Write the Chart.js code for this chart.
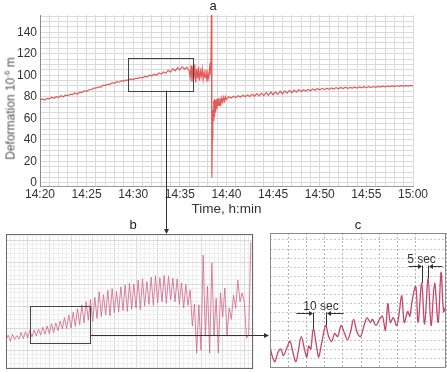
<!DOCTYPE html>
<html><head><meta charset="utf-8">
<script src="https://cdn.jsdelivr.net/npm/chart.js@4.4.1/dist/chart.umd.min.js"></script>
<style>
html,body{margin:0;padding:0;background:#fff;}
#wrap{position:relative;width:447px;height:372px;overflow:hidden;font-family:"Liberation Sans",Arial,sans-serif;color:#222;}
canvas{position:absolute;left:0;top:0;}
.lbl{position:absolute;font-size:13px;line-height:13px;transform:translateX(-50%);white-space:nowrap;color:#222;font-weight:normal;}
#ylab{position:absolute;left:-88.7px;top:101px;width:200px;text-align:center;font-size:12px;line-height:15px;font-weight:normal;transform:rotate(-90deg);white-space:nowrap;color:#555;}
#ylab sup{font-size:8px;line-height:0;vertical-align:5px;}
</style></head>
<body>
<div id="wrap">
<canvas id="ca" width="447" height="372"></canvas>
<canvas id="cb" width="447" height="372"></canvas>
<canvas id="cc" width="447" height="372"></canvas>
<div class="lbl" style="left:213px;top:-1.5px">a</div>
<div class="lbl" style="left:133px;top:218px">b</div>
<div class="lbl" style="left:358px;top:218px">c</div>
<div id="ylab">Deformation 10<sup>-6</sup> m</div>
</div>
<script>
// ---------- panel a : minutes after 14:20 / deformation (10^-6 m) ----------
const aTime = [
 0,0.25,0.5,0.75,1,1.25,1.5,1.75,2,2.25,2.5,2.75,3,3.25,3.5,3.75,4,4.25,4.5,4.75,5,5.25,5.5,5.75,
 6,6.25,6.5,6.75,7,7.25,7.5,7.75,8,8.25,8.5,8.75,9,9.25,9.5,9.75,10,10.25,10.5,10.75,11,11.25,11.5,11.75,
 12,12.25,12.5,12.75,13,13.25,13.5,13.75,14,14.25,14.5,14.75,15,15.25,15.5,15.75,
 16,16.1,16.2,16.3,16.4,16.5,16.6,16.7,16.8,16.9,17,17.1,17.2,17.3,17.4,17.5,17.6,17.7,17.8,17.9,18,18.1,18.2,18.27,18.32,18.38,18.43,
 18.48,18.53,18.58,18.63,18.68,18.73,18.78,18.83,18.9,18.97,19.05,19.12,19.2,19.3,19.4,19.5,19.6,19.7,19.8,19.9,20,
 20.25,20.5,20.75,21,21.25,21.5,21.75,22,22.25,22.5,22.75,23,23.25,23.5,23.75,24,24.25,24.5,24.75,25,
 25.25,25.5,25.75,26,26.25,26.5,26.75,27,27.25,27.5,27.75,28,28.25,28.5,28.75,29,29.25,29.5,29.75,30,
 30.25,30.5,30.75,31,31.25,31.5,31.75,32,32.25,32.5,32.75,33,33.25,33.5,33.75,34,34.25,34.5,34.75,35,
 35.25,35.5,35.75,36,36.25,36.5,36.75,37,37.25,37.5,37.75,38,38.25,38.5,38.75,39,39.25,39.5,39.75,40
];
const aDef = [
 76.5,78,77,78.5,78,79.5,78.5,80,79.5,81,80,81.5,81,82.5,82,83.5,82.5,84,84,85.5,85,86.5,86.5,88,
 88,89,89,90.5,90.5,91.5,91.5,93,92.5,94,93.5,95,94.5,95.5,95.5,96.5,96,97,97,98,97.5,99,98.5,100,
 99.5,101,100,102,101,103,102,104.5,103,106,104,107,105,108,105.5,107.5,
 104,98,109,94,107,96,110,93,106,97,108,95,104,99,106,96,103,98,105,94,102,97,108,112,100,156,5,
 40,68,58,76,62,78,66,77,69,78,71,78.5,72,79,73.5,79,75,79.5,76,80,77.5,
 80.0,78.8,80.4,79.3,80.9,79.6,81.3,80.1,81.7,80.3,82.2,80.6,83.0,80.8,83.4,81.1,83.8,81.4,84.4,81.9,
 84.6,82.3,85.1,82.8,85.5,83.4,85.9,83.7,86.2,84.3,86.6,84.7,86.5,85.3,86.8,85.5,87.2,86.0,87.6,86.3,
 87.8,86.6,88.0,86.8,88.2,87.1,88.5,87.3,88.6,87.6,88.8,87.7,88.7,88.0,88.9,88.1,89.1,88.3,89.3,88.4,
 89.3,88.6,89.5,88.8,89.6,89.0,89.8,89.1,89.9,89.3,90.0,89.4,90.2,89.6,90.3,89.8,90.4,89.9,90.6,90.1
];
const aTickMinutes = [0,5,10,15,20,25,30,35,40];
const aTickLabels = ['14:20','14:25','14:30','14:35','14:40','14:45','14:50','14:55','15:00'];
const aYTicks = [0,20,40,60,80,100,120,140];
const aZoom = {t0:9.47, t1:16.37, v0:85.7, v1:116.4};   // region enlarged in b
const aArrowT = 13.48;

// ---------- panel b : seconds / deformation ----------
const bTime = [
 0,5,10,15,20,25,30,35,40,45,50,55,60,65,70,75,80,85,90,95,100,105,110,115,120,125,130,135,140,145,150,155,160,165,170,175,180,185,190,
 195,200,205,210,215,220,225,230,235,240,245,250,255,260,265,270,275,280,285,290,295,300,305,310,315,320,325,330,335,340,345,350,355,360,365,370,375,380,385,390,395,400,405,410,415,420,425,
 430,435,440,445,450,455,460,465,470,475,480,485,490,495,500,505,510,515,520,525,530,535,540,545,550,555,560,565
];
const bDef = [
 92.3,93.4,92.0,93.6,92.4,93.3,92.5,94.0,92.6,94.2,92.8,94.5,93.0,94.6,93.2,94.8,93.4,95.2,93.6,95.5,93.7,96.0,94.0,96.2,94.4,96.6,94.8,97.4,94.9,98.0,95.0,98.6,95.4,99.4,95.8,100.3,96.2,101.0,96.8,
 101.5,96.5,102.0,97.2,103.3,97.6,102.6,98.0,103.6,97.8,104.0,98.5,103.4,98.7,104.4,99.0,104.8,98.8,105.2,99.3,105.0,99.6,105.9,99.2,106.2,100.0,105.6,100.4,106.6,100.2,106.9,100.7,106.5,101.0,107.0,100.6,106.8,101.4,106.4,101.0,106.2,100.4,105.3,99.6,104.9,100.2,103.7,
 95.5,100.5,89.3,100.3,90.0,111.6,93.4,104.5,89.3,109.8,93.4,101.8,89.3,103.0,97.5,104.1,93.4,99.6,97.0,102.5,99.5,105.9,101.0,103.0,100.9,92.7,93.5,114.6
];
const bZoom = {t0:56, t1:194, v0:91.5, v1:100.1};   // region enlarged in c
const bArrowV = 93.5;

// ---------- panel c : seconds in window / deformation ----------
const cTime = [
 0,1.6,3.9,6.3,8.6,10.6,13.4,15.7,18.1,20.4,22.4,24.7,27.5,29.1,30.6,32.2,34.2,36.9,38.5,40.8,44.0,46.3,48.7,51.1,53.4,56.2,58.9,61.3,63.6,66.0,
 68.7,71.5,74.6,76.6,79.3,80.9,83.7,86.4,88.8,91.1,93.1,95.0,97.4,99.8,101.3,104.1,106.0,108.8,110.4,112.3,115.1,117.0,119.8,122.1,124.9,127.2,130.0,132.8,135.1,137.1,139.0
];
const cDef = [
 93.0,92.4,92.0,92.6,92.8,92.4,92.9,93.3,92.6,92.0,92.7,93.6,92.7,92.3,93.0,92.8,94.1,92.9,92.3,93.2,94.3,93.6,93.3,93.8,93.6,94.3,93.8,93.4,93.9,94.7,
 93.9,93.6,94.4,94.8,94.5,94.7,94.3,94.7,94.9,94.0,95.7,94.5,94.8,94.3,94.7,96.2,94.5,95.2,94.9,95.9,96.8,94.5,97.0,94.4,97.3,94.3,97.0,94.5,97.7,95.2,95.6
];
const cMark10 = [34.2, 44.0], cLevel10 = 95.1, cText10 = '10 sec';
const cMark5 = [119.8, 124.9], cLevel5 = 98.07, cText5 = '5 sec';

// ---------------------------------------------------------------
Chart.defaults.font.family = '"Liberation Sans", Arial, sans-serif';
const pts = (xs, ys) => xs.map((x, i) => ({x, y: ys[i]}));
function head(ctx, x, y, dir, len, half){
  ctx.beginPath();
  if (dir === 'down'){ ctx.moveTo(x, y); ctx.lineTo(x-half, y-len); ctx.lineTo(x+half, y-len); }
  else if (dir === 'right'){ ctx.moveTo(x, y); ctx.lineTo(x-len, y-half); ctx.lineTo(x-len, y+half); }
  else { ctx.moveTo(x, y); ctx.lineTo(x+len, y-half); ctx.lineTo(x+len, y+half); }
  ctx.closePath(); ctx.fill();
}
const frame = (id, color) => ({id, afterDraw(ch){
  const a = ch.chartArea, c = ch.ctx; c.save(); c.strokeStyle = color; c.lineWidth = 1;
  c.strokeRect(Math.round(a.left)+0.5, Math.round(a.top)+0.5, Math.round(a.width)-1, Math.round(a.height)-1); c.restore();
}});
function zoomRect(ch, z){
  const x = ch.scales.x, y = ch.scales.y, c = ch.ctx;
  const l = Math.round(x.getPixelForValue(z.t0))+0.5, r = Math.round(x.getPixelForValue(z.t1))+0.5;
  const t = Math.round(y.getPixelForValue(z.v1))+0.5, b = Math.round(y.getPixelForValue(z.v0))+0.5;
  c.save(); c.strokeStyle = '#444'; c.lineWidth = 1; c.strokeRect(l, t, r-l, b-t); c.restore();
}
const common = {responsive:false, animation:false, events:[], devicePixelRatio:1,
  plugins:{legend:{display:false}, tooltip:{enabled:false}}};

const chartA = new Chart(document.getElementById('ca'), {
  type:'line',
  data:{datasets:[{data:pts(aTime, aDef), borderColor:'rgba(224,64,64,0.85)', borderWidth:1.2, pointRadius:0, tension:0, fill:false}]},
  options:Object.assign({}, common, {
    layout:{padding:{left:0, top:15, right:34, bottom:151}},
    scales:{
      x:{type:'linear', min:0, max:40,
        grid:{color:'#dadada', drawTicks:false}, border:{color:'#9a9a9a'},
        ticks:{stepSize:1, autoSkip:false, maxRotation:0, minRotation:0, padding:1, color:'#333', font:{size:12},
          callback:v => { const i = aTickMinutes.indexOf(v); return i < 0 ? '' : aTickLabels[i]; }},
        title:{display:true, text:'Time, h:min', color:'#333', font:{size:13.5}, padding:{top:0, bottom:4}},
        afterFit:s => { s.height = 35; }},
      y:{type:'linear', min:-3, max:156,
        grid:{color:'#dadada', drawTicks:false}, border:{color:'#8a8a8a'},
        ticks:{stepSize:5, autoSkip:false, includeBounds:false, padding:3, color:'#333', font:{size:12},
          callback:v => aYTicks.includes(v) ? String(v) : ''},
        afterFit:s => { s.width = 40; }}
    }
  }),
  plugins:[{id:'zoomA', afterDraw(ch){ zoomRect(ch, aZoom); }}]
});

const chartB = new Chart(document.getElementById('cb'), {
  type:'line',
  data:{datasets:[{data:pts(bTime, bDef), borderColor:'rgba(208,100,135,0.8)', borderWidth:1, pointRadius:0, tension:0, fill:false}]},
  options:Object.assign({}, common, {
    layout:{padding:{left:6, top:234, right:194, bottom:3}},
    scales:{
      x:{type:'linear', min:0, max:570, ticks:{display:false, stepSize:10},
        grid:{drawTicks:false, color:c => (c.tick && Math.round(c.tick.value) % 50 === 0) ? '#d9d9d9' : '#eeeeee'},
        border:{display:false}, afterFit:s => { s.height = 0; }},
      y:{type:'linear', min:85.7, max:116.4, ticks:{display:false, stepSize:1, includeBounds:false},
        grid:{drawTicks:false, color:c => (c.tick && Math.round(c.tick.value) % 5 === 0) ? '#d9d9d9' : '#eeeeee'},
        border:{display:false}, afterFit:s => { s.width = 0; }}
    }
  }),
  plugins:[frame('frameB', '#6a6a6a'), {id:'zoomB', afterDraw(ch){ zoomRect(ch, bZoom); }}]
});

function marks(ch, m, level, text, armLen, textShift){
  const xs = ch.scales.x, ys = ch.scales.y, c = ch.ctx;
  const yL = Math.round(ys.getPixelForValue(level))+0.5;
  const xL = Math.round(xs.getPixelForValue(m[0]))+0.5, xR = Math.round(xs.getPixelForValue(m[1]))+0.5;
  const pL = ys.getPixelForValue(cDef[cTime.indexOf(m[0])]), pR = ys.getPixelForValue(cDef[cTime.indexOf(m[1])]);
  c.save(); c.strokeStyle = '#333'; c.fillStyle = '#333'; c.lineWidth = 1;
  c.beginPath();
  c.moveTo(xL, yL-1); c.lineTo(xL, pL);
  c.moveTo(xR, yL-1); c.lineTo(xR, pR);
  c.moveTo(xL-armLen, yL); c.lineTo(xL-3, yL);
  c.moveTo(xR+armLen, yL); c.lineTo(xR+3, yL);
  c.stroke();
  head(c, xL-0.5, yL, 'right', 4, 2.5);
  head(c, xR+0.5, yL, 'left', 4, 2.5);
  c.font = '12px "Liberation Sans", Arial, sans-serif'; c.textAlign = 'center'; c.textBaseline = 'alphabetic';
  c.fillStyle = '#333';
  c.fillText(text, (xL+xR)/2 + textShift, yL-4);
  c.restore();
}

const chartC = new Chart(document.getElementById('cc'), {
  type:'line',
  data:{datasets:[{data:pts(cTime, cDef), borderColor:'#c4486a', borderWidth:1.3, pointRadius:0, tension:0.35, fill:false}]},
  options:Object.assign({}, common, {
    layout:{padding:{left:270, top:233, right:1, bottom:4}},
    scales:{
      x:{type:'linear', min:0, max:139, ticks:{display:false, stepSize:14.4},
        grid:{drawTicks:false, color:'#b3b3b3'}, border:{display:false, dash:[2,2]}, afterFit:s => { s.height = 0; }},
      y:{type:'linear', min:91.6, max:100.2, ticks:{display:false, stepSize:0.58, includeBounds:false},
        grid:{drawTicks:false, color:'#c8c8c8'}, border:{display:false, dash:[2,2]}, afterFit:s => { s.width = 0; }}
    }
  }),
  plugins:[frame('frameC', '#8a8a8a'), {id:'notes', afterDraw(ch){
    marks(ch, cMark10, cLevel10, cText10, 17, 1);
    marks(ch, cMark5, cLevel5, cText5, 14, -4);
    // connectors between panels
    const c = ch.ctx;
    c.save(); c.strokeStyle = '#333'; c.fillStyle = '#333'; c.lineWidth = 1;
    const vx = Math.round(chartA.scales.x.getPixelForValue(aArrowT))+0.5;
    const vy1 = chartA.scales.y.getPixelForValue(aZoom.v0);
    const vy2 = chartB.chartArea.top;
    c.beginPath(); c.moveTo(vx, vy1); c.lineTo(vx, vy2-4); c.stroke();
    head(c, vx, vy2, 'down', 5, 2.5);
    const hx1 = chartB.scales.x.getPixelForValue(bZoom.t1);
    const hy = Math.round(chartB.scales.y.getPixelForValue(bArrowV))+0.5;
    const hx2 = ch.chartArea.left - 1;
    c.beginPath(); c.moveTo(hx1, hy); c.lineTo(hx2-4, hy); c.stroke();
    head(c, hx2, hy, 'right', 5, 2.5);
    c.restore();
  }}]
});
</script>
</body></html>
